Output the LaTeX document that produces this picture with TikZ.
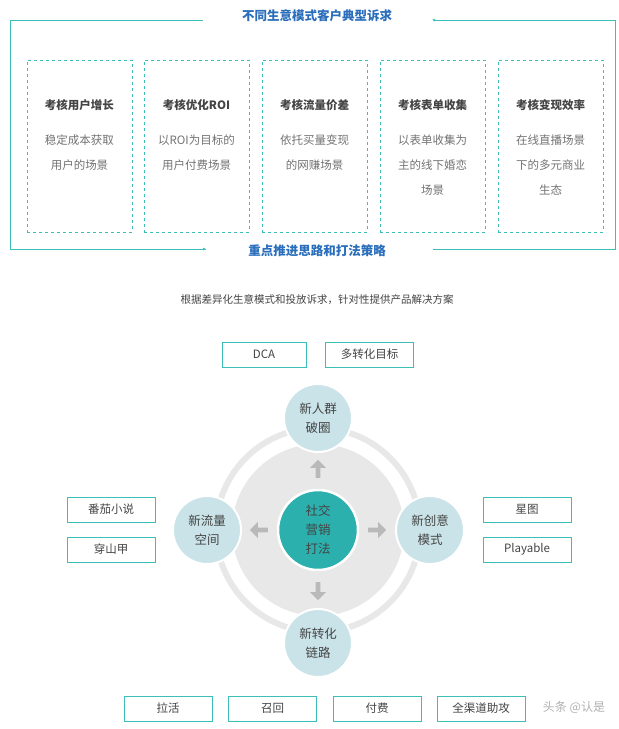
\documentclass[tikz,border=0pt]{standalone}
\usepackage{fontspec}
\setmainfont{Noto Sans CJK SC}
\usetikzlibrary{arrows.meta,shapes.arrows}
\definecolor{teal1}{HTML}{3CBFB8}
\definecolor{blue1}{HTML}{2A6EBB}
\definecolor{ctr}{HTML}{2BB0AE}
\definecolor{sat}{HTML}{C9E3E8}
\definecolor{txt}{HTML}{444444}
\tikzset{x=1pt,y=-1pt,
 dbox/.style={draw=teal1,dashed,line width=0.8pt,minimum width=105pt,minimum height=172pt,anchor=north west},
 tbox/.style={draw=teal1,line width=0.8pt,minimum width=88pt,minimum height=25pt,font=\fontsize{11.5}{13}\selectfont,text=txt},
 satc/.style={circle,fill=sat,draw=white,line width=2pt,minimum size=68pt,align=center,font=\fontsize{12.5}{19}\selectfont,text=txt},
 garr/.style={single arrow,fill=gray!55,minimum height=18pt,minimum width=16pt,single arrow head extend=3pt,inner sep=1pt},
 frame/.style={draw=teal1,line width=0.8pt}}
\begin{document}
\begin{tikzpicture}
\useasboundingbox[fill=white] (0,0) rectangle (619,729);
% frame
\node[text=blue1,font=\bfseries\fontsize{12.5}{14}\selectfont] (t1) at (317,16) {不同生意模式客户典型诉求};
\node[text=blue1,font=\bfseries\fontsize{12.5}{14}\selectfont] (t2) at (317,251) {重点推进思路和打法策略};
\coordinate (c1) at (203,20); \coordinate (c2) at (10,20); \coordinate (c3) at (10,249); \coordinate (c4) at (206,249);
\coordinate (d1) at (432,20); \coordinate (d2) at (615,20); \coordinate (d3) at (615,249); \coordinate (d4) at (433,249);
\draw[frame] (c1)--(c2)--(c3)--(c4);
\draw[frame,-{Latex[length=3pt,width=3pt]}] (c3)--(c4);
\draw[frame,{Latex[length=3pt,width=3pt]}-] (d1)--(d2)--(d3)--(d4);
% boxes
\foreach \x/\h/\a/\b/\c [count=\i] in {27/考核用户增长/稳定成本获取/用户的场景/,144/考核优化ROI/以ROI为目标的/用户付费场景/,262/考核流量价差/依托买量变现/的网赚场景/,380/考核表单收集/以表单收集为/主的线下婚恋/场景,498/考核变现效率/在线直播场景/下的多元商业/生态}{
 \node[dbox] (b\i) at (\x,60) {};
 \node[font=\bfseries\fontsize{11.5}{13}\selectfont,text=txt] (h\i) at (\x+52.5,105) {\h};
 \node[font=\fontsize{11.5}{13}\selectfont,text=gray!90!black] (l\i a) at (\x+52.5,140) {\a};
 \node[font=\fontsize{11.5}{13}\selectfont,text=gray!90!black] (l\i b) at (\x+52.5,165) {\b};
 \node[font=\fontsize{11.5}{13}\selectfont,text=gray!90!black] (l\i c) at (\x+52.5,190) {\c};
}
\node[font=\fontsize{10.5}{12}\selectfont,text=txt] (sub) at (317,300) {根据差异化生意模式和投放诉求，针对性提供产品解决方案};
% rings
\coordinate (o) at (318,530);
\draw[gray!18,line width=6pt] (o) circle[radius=102];
\fill[gray!18] (o) circle[radius=86];
\node[garr,rotate=90] (au) at (318,470) {};
\node[garr,rotate=-90] (ad) at (318,590) {};
\node[garr,rotate=180] (al) at (260,530) {};
\node[garr] (ar) at (376,530) {};
\node[circle,fill=ctr,draw=white,line width=2.5pt,minimum size=80pt,align=center,font=\fontsize{12.5}{19}\selectfont,text=txt] (ctr) at (o) {社交\\营销\\打法};
\node[satc] (top) at (318,418) {新人群\\破圈};
\node[satc] (bot) at (318,643) {新转化\\链路};
\node[satc] (lft) at (207,530) {新流量\\空间};
\node[satc] (rgt) at (430,530) {新创意\\模式};
% tag boxes
\node[tbox,minimum width=84pt] (dca) at (264,354.5) {DCA};
\node[tbox] (dz) at (369.5,354.5) {多转化目标};
\node[tbox] (fq) at (111,509.5) {番茄小说};
\node[tbox] (cs) at (111,549.5) {穿山甲};
\node[tbox] (xt) at (527,509.5) {星图};
\node[tbox] (pl) at (527,549.5) {Playable};
\node[tbox] (lh) at (168,708.5) {拉活};
\node[tbox] (zh) at (272.5,708.5) {召回};
\node[tbox] (ff) at (377,708.5) {付费};
\node[tbox] (qq) at (481,708.5) {全渠道助攻};
\node[font=\fontsize{12}{14}\selectfont,text=gray!60] (wm) at (574,707) {头条 @认是};
\end{tikzpicture}
\end{document}
